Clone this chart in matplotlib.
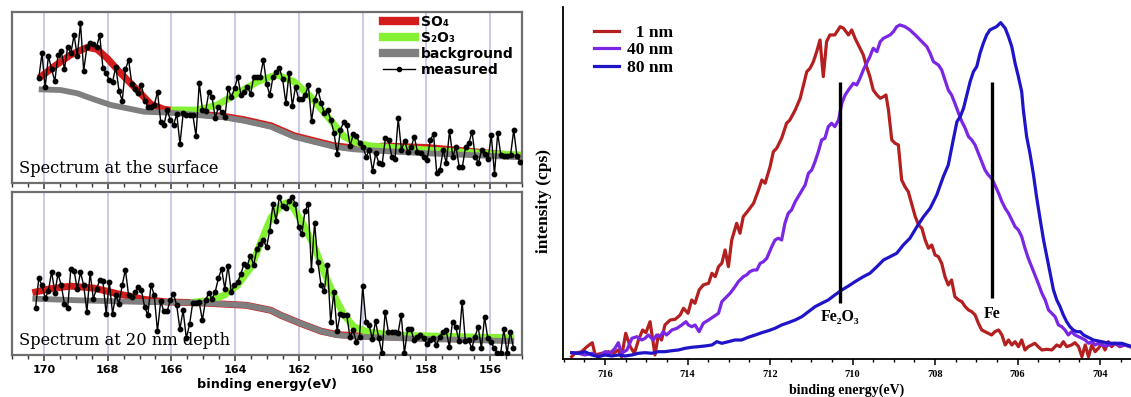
import numpy as np
import matplotlib.pyplot as plt
from matplotlib.ticker import MultipleLocator
from matplotlib.lines import Line2D

# ---------------- S 2p spectra (left), intensity in arb. units ----------------
surf_ev = np.linspace(170.16, 155.06, 151)
surf_meas = [104.7, 129.7, 95.7, 127, 113.7, 102, 128, 132.3, 113.7, 136.3,
             129.7, 148, 127, 159.7, 112, 136.3, 139.7, 139, 136.3, 147.7,
             114.7, 109.7, 103, 101.3, 116.3, 92.3, 82.3, 113.7, 123, 99,
             94.3, 89.7, 98, 82.3, 76.3, 76.3, 78, 91.3, 61.3, 58,
             73, 63, 58, 69, 39, 69.7, 68, 68, 68, 47,
             100.3, 73, 72, 91.3, 85.7, 64.7, 76.3, 71.3, 65.7, 94.7,
             85.7, 94.7, 106.3, 88, 91.3, 96.3, 89, 106.3, 106.3, 106.3,
             123, 99,
             88, 106.3, 111.3, 114.7, 103.7, 79.7, 110.3, 77, 96.3, 83.7,
             83.7, 88, 97.7, 62.3, 83, 93, 80.3, 69.7, 73, 63,
             49.7, 29, 53, 61.3, 58, 37, 49, 47, 39.7, 36.3,
             26.3, 33, 12, 29.7, 19.7, 19, 44.7, 43, 26.3, 23.7,
             64.7, 33, 42.3, 31.3, 35.7, 46.3, 31.3, 29.7, 26.3, 23,
             43, 49, 10.3, 13, 33, 19.7, 52.3, 26.3, 36.3, 16.3,
             16.3, 36.3, 39.7, 51.3, 26.3, 20, 33, 29, 23.7, 48,
             9, 49.7, 27.7, 27, 27, 27.7, 53, 27, 21.3]
surf_bg_ev = [170.16, 169.48, 168.95, 168.43, 167.9, 167.38, 166.86, 166.02, 165.19, 164.35,
              163.72, 162.88, 162.15, 161.53, 160.9, 160.27, 159.54, 157.97, 156.4, 155.04]
surf_bg = [93.7, 93, 89.7, 83.7, 78, 74.7, 71.3, 70.3, 68, 65.7,
           62.3, 56.3, 46.3, 41.3, 36.3, 33.7, 32.3, 29.7, 27.7, 25.7]
surf_so4_ev = [170.16, 169.69, 169.17, 168.64, 168.33, 168.01, 167.59, 167.07, 166.65, 166.23,
               165.81, 165.19, 164.35, 163.72, 162.88, 162.15, 161.53, 160.9, 160.27, 159.74,
               159.3, 157.97, 156.4, 155.04]
surf_so4 = [104.7, 116.3, 128, 135.7, 133.7, 124.7, 109.7, 93, 79, 73.7,
            72, 69, 66.7, 63.3, 57.3, 47.3, 42.3, 37.3, 35, 36,
            37, 35.5, 31, 27]
surf_s2o3_ev = [166.02, 165.19, 164.56, 163.93, 163.3, 162.88, 162.67, 162.15, 161.63, 161.1,
                160.58, 160.16, 159.74, 157.97, 156.4, 155.04]
surf_s2o3 = [73, 73, 78, 89.7, 101.3, 106.3, 108, 101.3, 86.3, 66.3,
             46.3, 39.7, 37, 33, 30, 28]

depth_ev = np.linspace(170.26, 155.27, 150)
depth_meas = [47.3, 77.3, 70, 57.3, 64, 84, 62.7, 81.7, 70, 51.7,
              47.3, 86.7, 85, 66, 83.3, 70, 43.3, 82.7, 56.7, 66.7,
              75, 74, 41.7, 73.3, 41.7, 60, 51.7, 70, 86, 60,
              58.3, 63.3, 68.3, 65, 48.3, 40, 70.7, 60, 24, 54,
              44, 44, 55, 61.7, 50, 26, 45, 16.7, 30.7, 52.7,
              52.7, 53.3, 35, 55, 62.7, 56.7, 63.3, 77.3, 86.7, 66.7,
              90, 63.3, 70, 73.3, 81.7, 91.7, 90, 100, 90.7, 106.7,
              111.7, 116, 108.3, 125,
              151.7, 135, 159.3, 150, 148.3, 155, 159.3, 151.7, 128.3, 121.7,
              145, 151.7, 86, 133.3, 93.3, 70.7, 64, 90.7, 33.3, 63.3,
              24, 41.7, 40, 40.7, 18.3, 25, 13.3, 18.3, 69.3, 33.3,
              30, 16, 34, 16.7, 1.7, 43.3, 23.3, 23.3, 23.3, 21.7,
              40.7, 1.7, 26, 26, 15, 18.3, 20, 17.3, 10.7, 15,
              16.7, 10, 18.3, 23.3, 25, 8.3, 33.3, 28.3, 14, 53.3,
              14, 15, 6.7, 18.3, 28.3, 6.7, 38.3, 16.7, 13.3, 6.7,
              1.7, 1.7, 26, 1.7, 23.3, 7.3]
depth_bg_ev = [170.36, 168.88, 166.79, 165.22, 163.65, 162.88, 162.57, 161.94, 161.31, 160.79,
               160.06, 157.97, 155.25]
depth_bg = [56.7, 55, 53.3, 52.7, 50, 45, 40, 31.7, 24, 20,
            18.3, 16, 14]
depth_so4_ev = [170.36, 169.79, 169.16, 168.43, 167.7, 166.86, 166.13, 165.22, 163.65, 162.88,
                162.57, 161.94, 161.31, 160.79, 160.06, 157.97, 155.25]
depth_so4 = [62.7, 66.7, 69.3, 67.3, 61.7, 56, 53.3, 52.7, 50, 45,
             40, 31.7, 24, 20.5, 19, 17, 15]
depth_s2o3_ev = [165.40, 164.77, 164.35, 163.93, 163.51, 163.2, 162.88, 162.57, 162.41, 162.25,
                 161.84, 161.53, 161.21, 160.9, 160.58, 160.27, 159.85, 159.01, 156.92, 155.25]
depth_s2o3 = [52.7, 55, 60, 70, 88, 113, 138, 150, 153, 152,
              130, 110, 83.3, 60, 40, 28.3, 23.3, 20, 18.3, 17.3]

# ---------------- Fe 2p3/2 depth profile (right) ----------------
r_ev = [716.81, 716.73, 716.57, 716.44, 716.31, 716.24, 716.08, 715.92, 715.80, 715.68,
        715.60, 715.50, 715.39, 715.29, 715.19, 715.09, 715.01, 714.91, 714.79, 714.71,
        714.63, 714.55, 714.42, 714.30, 714.18, 714.10, 713.99, 713.90, 713.82, 713.72,
        713.62, 713.49, 713.41, 713.33, 713.25, 713.17, 713.09, 713.01, 712.93, 712.81,
        712.73, 712.65, 712.52, 712.40, 712.28, 712.20, 712.12, 712.00, 711.92, 711.84,
        711.72, 711.60, 711.52, 711.39, 711.27, 711.19, 711.11, 711.03, 710.95, 710.87,
        710.79, 710.71, 710.63, 710.55, 710.43, 710.30, 710.22, 710.10, 710.02, 709.94,
        709.82, 709.74, 709.66, 709.58, 709.50, 709.41, 709.33, 709.25, 709.19, 709.13,
        709.05, 708.97, 708.89, 708.81, 708.73, 708.65, 708.57, 708.48, 708.40, 708.32,
        708.24, 708.16, 708.08, 708.00, 707.92, 707.84, 707.76, 707.68, 707.60, 707.52,
        707.43, 707.35, 707.27, 707.19, 707.11, 707.03, 706.95, 706.87, 706.79, 706.71,
        706.63, 706.55, 706.46, 706.38, 706.30, 706.22, 706.14, 706.06, 705.98, 705.90,
        705.82, 705.74, 705.66, 705.58, 705.50, 705.41, 705.29, 705.17, 705.05, 704.97,
        704.89, 704.81, 704.69, 704.61, 704.52, 704.44, 704.36, 704.28, 704.20, 704.12,
        704.04, 703.96, 703.88, 703.80, 703.72, 703.64, 703.52, 703.40, 703.27]
r_int = [2.8, 6.2, 7.8, 12.8, 16.8, 4.5, 6.2, 7.8, 6.2, 9.5,
         2.8, 26.2, 12.8, 6.2, 19.5, 29.5, 26.8, 37.8, 4.5, 24.5,
         19.5, 34.5, 39.5, 40.2, 44.5, 51.2, 46.2, 59.5, 56.2, 69.5,
         74.5, 76.2, 86.2, 82.8, 92.8, 96.2, 109.5, 92.8, 119.5, 136.2,
         126.2, 142.8, 149.5, 156.2, 169.5, 179.5, 176.2, 192.8, 207.8, 211.2,
         221.2, 236.2, 239.5, 249.5, 261.2, 274.5, 287.8, 291.2, 297.8, 307.8,
         319.5, 282.8, 317.8, 324.5, 324.5, 332.8, 331.2, 324.5, 329.5, 321.2,
         311.2, 304.5, 292.8, 282.8, 269.5, 264.5, 261.2, 262.8, 264.5, 249.5,
         219.5, 216.2, 214.5, 179.5, 172.8, 167.8, 156.2, 142.8, 134.5, 131.2,
         119.5, 111.2, 114.5, 104.5, 102.8, 96.2, 82.8, 74.5, 79.5, 62.8,
         59.5, 57.8, 52.8, 49.5, 47.8, 44.5, 36.2, 29.5, 27.8, 26.2,
         24.5, 27.8, 29.5, 24.5, 14.5, 19.5, 14.5, 17.8, 12.8, 19.5,
         9.5, 12.8, 14.5, 16.2, 12.8, 9.5, 10.2, 9.5, 14.5, 12.8,
         17.8, 12.8, 14.5, 16.8, 12.8, 2.8, 14.5, 2.8, 14.5, 7.8,
         11.2, 16.2, 9.5, 17.8, 12.8, 16.2, 12.8, 14.5, 12.8]

p_ev = [716.81, 716.65, 716.49, 716.32, 716.16, 716.00, 715.88, 715.76, 715.68, 715.60,
        715.47, 715.35, 715.23, 715.11, 715.03, 714.95, 714.83, 714.75, 714.67, 714.59,
        714.51, 714.38, 714.26, 714.14, 714.04, 713.98, 713.90, 713.82, 713.72, 713.62,
        713.49, 713.37, 713.25, 713.17, 713.05, 712.97, 712.85, 712.77, 712.65, 712.57,
        712.49, 712.40, 712.32, 712.24, 712.16, 712.08, 711.96, 711.88, 711.80, 711.72,
        711.64, 711.56, 711.48, 711.39, 711.27, 711.15, 711.07, 710.99, 710.91, 710.83,
        710.75, 710.67, 710.59, 710.51, 710.43, 710.34, 710.26, 710.18, 710.10, 709.98,
        709.90, 709.82, 709.74, 709.66, 709.58, 709.50, 709.41, 709.33, 709.25, 709.17,
        709.09, 709.01, 708.93, 708.85, 708.73, 708.61, 708.48, 708.40, 708.32, 708.20,
        708.12, 708.04, 707.92, 707.84, 707.76, 707.68, 707.60, 707.52, 707.43, 707.35,
        707.27, 707.19, 707.11, 707.03, 706.95, 706.87, 706.79, 706.71, 706.63, 706.55,
        706.46, 706.38, 706.30, 706.22, 706.14, 706.06, 705.98, 705.90, 705.82, 705.74,
        705.66, 705.58, 705.50, 705.41, 705.33, 705.25, 705.17, 705.09, 705.01, 704.93,
        704.85, 704.77, 704.69, 704.61, 704.52, 704.44, 704.36, 704.28, 704.20, 704.12,
        704.04, 703.96, 703.88, 703.76, 703.64, 703.52, 703.40, 703.27]
p_int = [6.8, 6.2, 4.5, 6.2, 2.8, 7.8, 6.2, 11.2, 16.8, 6.2,
         9.5, 21.2, 22.8, 19.5, 21.2, 24.5, 19.5, 24.5, 22.8, 27.8,
         24.5, 29.5, 31.2, 34.5, 37.8, 34.5, 32.8, 34.5, 27.8, 36.2,
         39.5, 42.8, 46.2, 57.8, 62.8, 66.2, 72.8, 77.8, 82.8, 84.5,
         87.8, 89.5, 89.5, 96.2, 97.8, 101.2, 112.8, 119.5, 121.2, 119.5,
         136.2, 146.2, 149.5, 157.8, 166.2, 174.5, 186.2, 189.5, 197.8, 207.8,
         219.5, 221.2, 232.8, 236.2, 232.8, 239.5, 256.2, 264.5, 269.5, 276.2,
         274.5, 281.2, 289.5, 296.2, 302.8, 311.2, 307.8, 317.8, 321.2, 322.8,
         324.5, 327.8, 332.8, 334.5, 332.8, 329.5, 324.5, 321.2, 317.8, 312.8,
         306.2, 297.8, 294.5, 289.5, 279.5, 269.5, 264.5, 256.2, 246.2, 237.8,
         231.2, 222.8, 219.5, 214.5, 206.2, 197.8, 189.5, 184.5, 181.2, 174.5,
         166.2, 157.8, 151.2, 146.2, 139.5, 132.8, 129.5, 122.8, 111.2, 101.2,
         92.8, 84.5, 76.2, 66.2, 59.5, 49.5, 46.2, 42.8, 34.5, 32.8,
         29.5, 24.5, 27.8, 24.5, 22.8, 21.2, 19.5, 16.2, 17.8, 14.5,
         16.2, 14.5, 13.5, 14.5, 16.2, 13.5, 14.5, 12.8]

b_ev = [716.81, 716.65, 716.49, 716.32, 716.16, 716.00, 715.84, 715.68, 715.52, 715.35,
        715.19, 715.03, 714.87, 714.71, 714.55, 714.38, 714.22, 714.06, 713.90, 713.74,
        713.58, 713.41, 713.29, 713.17, 713.01, 712.85, 712.69, 712.53, 712.36, 712.20,
        712.04, 711.88, 711.72, 711.56, 711.39, 711.23, 711.07, 710.91, 710.75, 710.59,
        710.43, 710.26, 710.10, 709.94, 709.74, 709.58, 709.41, 709.25, 709.09, 708.93,
        708.77, 708.61, 708.44, 708.28, 708.12, 707.96, 707.80, 707.68, 707.56, 707.47,
        707.39, 707.31, 707.23, 707.15, 707.07, 706.99, 706.91, 706.83, 706.75, 706.67,
        706.59, 706.51, 706.41, 706.30, 706.22, 706.14, 706.06, 705.98, 705.90, 705.86,
        705.78, 705.70, 705.62, 705.54, 705.45, 705.37, 705.29, 705.21, 705.13, 705.05,
        704.97, 704.89, 704.81, 704.73, 704.65, 704.57, 704.48, 704.40, 704.32, 704.24,
        704.16, 704.08, 703.96, 703.84, 703.72, 703.59, 703.47, 703.35, 703.27]
b_int = [6.8, 6.2, 7.8, 4.5, 2.8, 4.5, 3.5, 4.5, 3.5, 4.5,
         6.2, 6.8, 6.2, 7.8, 7.8, 8.8, 9.5, 11.2, 12.2, 12.8,
         13.5, 14.5, 17.8, 16.2, 17.8, 19.5, 19.5, 22.2, 24.5, 26.8,
         28.8, 31.2, 34.5, 36.8, 39.5, 42.8, 47.8, 52.8, 56.2, 59.5,
         64.5, 69.5, 73.5, 77.8, 82.8, 86.2, 92.8, 99.5, 102.8, 106.2,
         114.5, 121.2, 132.8, 142.8, 151.2, 164.5, 182.8, 194.5, 219.5, 237.8,
         242.8, 251.2, 264.5, 277.8, 287.8, 292.8, 306.2, 316.2, 324.5, 329.5,
         331.2, 332.8, 336.8, 331.2, 322.8, 312.8, 296.2, 282.8, 267.8, 249.5,
         222.8, 206.2, 186.2, 162.8, 139.5, 119.5, 102.8, 86.2, 69.5, 59.5,
         52.8, 44.5, 37.8, 32.8, 29.5, 27.8, 27.8, 24.5, 22.8, 21.2,
         19.5, 18.8, 17.8, 16.8, 16.2, 16.2, 16.2, 14.5, 13.5]

ref_names = ['Fe\u2082O\u2083', 'Fe']
ref_ev = [710.30, 706.61]
ref_top = [277.8, 277.8]
ref_bottom = [56.8, 61.2]
ref_label_y = [42, 45]

RED = '#d41c1c'
GREEN = '#84f232'
GRAY = '#7f7f7f'
SERIF = ['Liberation Serif', 'DejaVu Serif']

fig = plt.figure(figsize=(11.31, 3.97), dpi=100)
ax_top = fig.add_axes([0.0106, 0.539, 0.451, 0.4307])
ax_bot = fig.add_axes([0.0106, 0.1058, 0.451, 0.4106])


def style_s2p(ax, ymax):
    ax.set_xlim(171, 155)
    ax.set_ylim(0, ymax)
    ax.xaxis.set_major_locator(MultipleLocator(2))
    ax.xaxis.set_minor_locator(MultipleLocator(0.5))
    ax.set_yticks([])
    ax.grid(axis='x', which='major', color='#bcbce8', lw=1.1)
    ax.set_axisbelow(True)
    for s in ax.spines.values():
        s.set_color('#6e6e6e')
        s.set_linewidth(1.6)
    ax.tick_params(axis='x', which='major', direction='out', length=4, width=1.1, color='#333333')
    ax.tick_params(axis='x', which='minor', direction='out', length=3, width=1.0, color='#333333')


def draw_s2p(ax, so4_ev, so4, s2o3_ev, s2o3, bg_ev, bg, ev, meas):
    ax.plot(so4_ev, so4, color=RED, lw=5, solid_capstyle='butt', zorder=2)
    ax.plot(s2o3_ev, s2o3, color=GREEN, lw=5, solid_capstyle='butt', zorder=2.1)
    ax.plot(bg_ev, bg, color=GRAY, lw=4.2, solid_capstyle='butt', zorder=2.2)
    ax.plot(ev, meas, color='black', lw=1.0, marker='o', ms=3.2, zorder=3)


style_s2p(ax_top, 171)
style_s2p(ax_bot, 164)
draw_s2p(ax_top, surf_so4_ev, surf_so4, surf_s2o3_ev, surf_s2o3, surf_bg_ev, surf_bg, surf_ev, surf_meas)
draw_s2p(ax_bot, depth_so4_ev, depth_so4, depth_s2o3_ev, depth_s2o3, depth_bg_ev, depth_bg, depth_ev, depth_meas)

ax_top.tick_params(axis='x', labelbottom=False)
for lab in ax_bot.get_xticklabels():
    lab.set_fontweight('bold')
    lab.set_fontsize(8)
ax_bot.set_xlabel('binding energy(eV)', fontsize=9.2, fontweight='bold', labelpad=2)

ax_top.text(0.014, 0.085, 'Spectrum at the surface', transform=ax_top.transAxes,
            family='DejaVu Serif', fontsize=11.7, va='center', ha='left')
ax_bot.text(0.014, 0.092, 'Spectrum at 20 nm depth', transform=ax_bot.transAxes,
            family='DejaVu Serif', fontsize=11.7, va='center', ha='left')

handles = [Line2D([], [], color=RED, lw=6),
           Line2D([], [], color=GREEN, lw=6),
           Line2D([], [], color=GRAY, lw=6),
           Line2D([], [], color='black', lw=1, marker='o', ms=3)]
ax_top.legend(handles, ['SO\u2084', 'S\u2082O\u2083', 'background', 'measured'],
              loc='upper left', bbox_to_anchor=(0.722, 1.0), frameon=False,
              prop={'weight': 'bold', 'size': 10}, handlelength=2.3,
              handletextpad=0.4, labelspacing=0.15, borderaxespad=0, borderpad=0.2,
              numpoints=1)

# ---------------- right panel ----------------
ax_fe = fig.add_axes([0.4978, 0.0945, 0.5022, 0.888])
ax_fe.set_xlim(717.02, 703.25)
ax_fe.set_ylim(0, 352.5)
l1, = ax_fe.plot(r_ev, r_int, color='#b4201f', lw=2.3)
l2, = ax_fe.plot(p_ev, p_int, color='#7a26e4', lw=2.3)
l3, = ax_fe.plot(b_ev, b_int, color='#2014c8', lw=2.3)
ax_fe.vlines(ref_ev, ref_bottom, ref_top, color='black', lw=2.4)
for name, x, y in zip(ref_names, ref_ev, ref_label_y):
    ax_fe.text(x, y, name, ha='center', va='center', family=SERIF,
               fontweight='bold', fontsize=11.5)

ax_fe.spines['top'].set_visible(False)
ax_fe.spines['right'].set_visible(False)
for s in ('left', 'bottom'):
    ax_fe.spines[s].set_linewidth(1.3)
ax_fe.set_yticks([])
ax_fe.xaxis.set_major_locator(MultipleLocator(2))
ax_fe.xaxis.set_minor_locator(MultipleLocator(0.5))
ax_fe.tick_params(axis='x', which='major', direction='out', length=4, width=1.1)
ax_fe.tick_params(axis='x', which='minor', direction='out', length=2.5, width=1.0)
for lab in ax_fe.get_xticklabels():
    lab.set_family(SERIF)
    lab.set_fontweight('bold')
    lab.set_fontsize(7.5)
ax_fe.set_xlabel('binding energy(eV)', family=SERIF, fontweight='bold', fontsize=10, labelpad=3)
ax_fe.set_ylabel('intensity (cps)', family=SERIF, fontweight='bold', fontsize=12.5)
ax_fe.yaxis.set_label_coords(-0.02, 0.45)

ax_fe.legend([l1, l2, l3], ['  1 nm', '40 nm', '80 nm'], loc='upper left',
             bbox_to_anchor=(0.055, 0.95), frameon=False, handlelength=1.4,
             handletextpad=0.5, labelspacing=0.08, borderaxespad=0, borderpad=0,
             prop={'family': SERIF, 'weight': 'bold', 'size': 12.5})

fig.savefig('out.png', dpi=100)
